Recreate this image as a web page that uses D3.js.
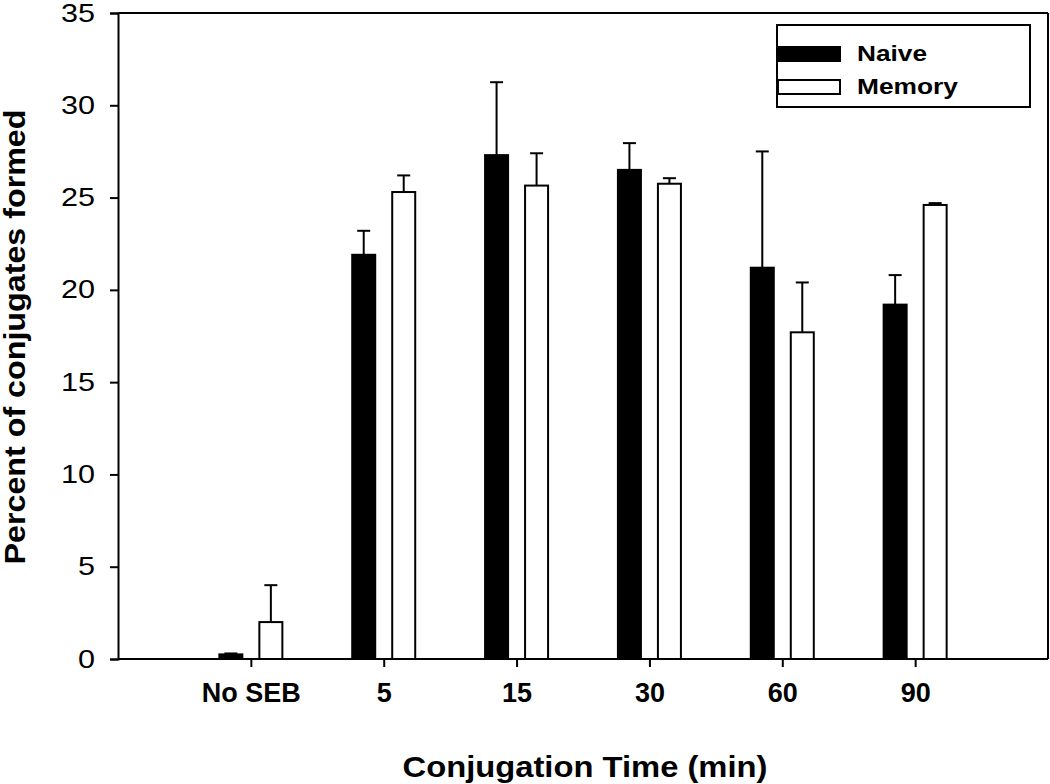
<!DOCTYPE html>
<html><head><meta charset="utf-8">
<script src="https://cdn.jsdelivr.net/npm/d3@7"></script>
<style>body{margin:0;background:#fff}svg{display:block}</style>
</head><body>
<svg id="c" width="1050" height="784"></svg>
<script>
const categories = ["No SEB", "5", "15", "30", "60", "90"];
const seriesNames = ["Naive", "Memory"];
const naiveValues = [0.25, 21.9, 27.3, 26.5, 21.2, 19.2];
const naiveErrors = [0.05, 1.3, 3.95, 1.45, 6.3, 1.6];
const memoryValues = [2.0, 25.3, 25.65, 25.75, 17.7, 24.6];
const memoryErrors = [2.0, 0.9, 1.75, 0.3, 2.7, 0.1];
const yTicks = [0, 5, 10, 15, 20, 25, 30, 35];

(function () {
const svg = d3.select("#c");
const font = "Arial, 'Liberation Sans', sans-serif";
const mLeft = 118, mRight = 1048, mTop = 13, mBottom = 659;

const x = d3.scaleLinear().domain([0, categories.length + 1]).range([mLeft, mRight]);
const y = d3.scaleLinear().domain([0, 35]).range([mBottom, mTop]);
const offset = d3.scaleBand().domain(seriesNames).range([-32.5, 32.5]).paddingInner(0.375);
const fills = {Naive: "#000", Memory: "#fff"};

const data = [];
categories.forEach((c, i) => {
  data.push({cat: c, i, s: "Naive", v: naiveValues[i], e: naiveErrors[i]});
  data.push({cat: c, i, s: "Memory", v: memoryValues[i], e: memoryErrors[i]});
});

// error bars
const eg = svg.append("g").attr("stroke", "#000").attr("stroke-width", 2);
data.forEach(d => {
  const cx = x(d.i + 1) + offset(d.s) + offset.bandwidth() / 2;
  eg.append("line").attr("x1", cx).attr("x2", cx).attr("y1", y(d.v)).attr("y2", y(d.v + d.e));
  eg.append("line").attr("x1", cx - 6.5).attr("x2", cx + 6.5).attr("y1", y(d.v + d.e)).attr("y2", y(d.v + d.e));
});

// bars
svg.append("g").selectAll("rect").data(data).join("rect")
  .attr("x", d => x(d.i + 1) + offset(d.s) + 1)
  .attr("width", offset.bandwidth() - 2)
  .attr("y", d => y(d.v))
  .attr("height", d => y(0) - y(d.v))
  .attr("fill", d => fills[d.s])
  .attr("stroke", "#000").attr("stroke-width", 2);

// frame top & right
svg.append("line").attr("x1", mLeft).attr("x2", mRight).attr("y1", mTop).attr("y2", mTop).attr("stroke", "#000").attr("stroke-width", 2);
svg.append("line").attr("x1", mRight).attr("x2", mRight).attr("y1", mTop).attr("y2", mBottom).attr("stroke", "#000").attr("stroke-width", 2);

// y axis
const yAxis = svg.append("g").attr("transform", `translate(${mLeft},0)`)
  .call(d3.axisLeft(y).tickValues(yTicks).tickSize(8).tickPadding(15).tickFormat(d3.format("d")));
yAxis.select(".domain").attr("stroke-width", 2);
yAxis.selectAll(".tick line").attr("stroke-width", 2);
yAxis.selectAll("text").attr("font-family", font).attr("font-size", 25).attr("fill", "#000")
  .attr("textLength", d => String(d).length * 17).attr("lengthAdjust", "spacingAndGlyphs");

// x axis
const xAxis = svg.append("g").attr("transform", `translate(0,${mBottom})`)
  .call(d3.axisBottom(x).tickValues(d3.range(1, categories.length + 1)).tickSize(8).tickPadding(16)
    .tickFormat(d => categories[d - 1]));
xAxis.select(".domain").attr("stroke-width", 2).attr("d", `M${mLeft},0H${mRight}`);
xAxis.selectAll(".tick line").attr("stroke-width", 2);
xAxis.selectAll("text").attr("font-family", font).attr("font-size", 27).attr("font-weight", "bold").attr("fill", "#000");

// axis titles
svg.append("text").attr("x", 585).attr("y", 777).attr("text-anchor", "middle")
  .attr("font-family", font).attr("font-size", 30).attr("font-weight", "bold")
  .attr("textLength", 365).attr("lengthAdjust", "spacingAndGlyphs").text("Conjugation Time (min)");
svg.append("text").attr("transform", "translate(25,337) rotate(-90)").attr("text-anchor", "middle")
  .attr("font-family", font).attr("font-size", 29).attr("font-weight", "bold")
  .attr("textLength", 455).attr("lengthAdjust", "spacingAndGlyphs").text("Percent of conjugates formed");

// legend
const lg = svg.append("g");
lg.append("rect").attr("x", 777).attr("y", 25).attr("width", 253).attr("height", 82)
  .attr("fill", "#fff").attr("stroke", "#000").attr("stroke-width", 2);
const legendLen = {Naive: 70, Memory: 101};
seriesNames.forEach((s, k) => {
  const yy = 54 + k * 33;
  lg.append("rect").attr("x", 778).attr("y", yy - 7).attr("width", 62).attr("height", 14)
    .attr("fill", fills[s]).attr("stroke", "#000").attr("stroke-width", 2);
  lg.append("text").attr("x", 857).attr("y", yy + 7).attr("font-family", font)
    .attr("font-size", 22).attr("font-weight", "bold")
    .attr("textLength", legendLen[s]).attr("lengthAdjust", "spacingAndGlyphs").text(s);
});
})();
</script>
</body></html>
